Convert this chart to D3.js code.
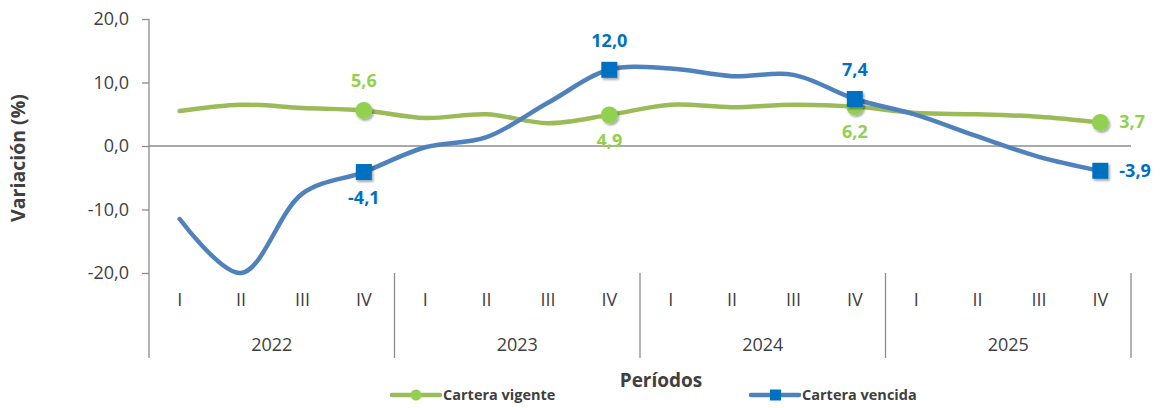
<!DOCTYPE html>
<html>
<head>
<meta charset="utf-8">
<script src="https://cdn.jsdelivr.net/npm/d3@7"></script>
<style>
  html, body { margin: 0; padding: 0; background: #ffffff; }
  svg { display: block; font-family: "Open Sans", "Noto Sans", sans-serif; }
</style>
</head>
<body>
<svg id="chart" width="1161" height="408"></svg>
<script>
const years = ["2022", "2023", "2024", "2025"];
const quarters = ["I", "II", "III", "IV"];
const vigente = [5.5, 6.5, 6.0, 5.6, 4.4, 5.0, 3.6, 4.9, 6.5, 6.1, 6.5, 6.2, 5.2, 5.0, 4.6, 3.7];
const vencida = [-11.5, -20.0, -7.5, -4.1, -0.2, 1.4, 6.8, 12.0, 12.2, 11.0, 11.2, 7.4, 4.9, 1.5, -1.7, -3.9];
const yTicks = [-20, -10, 0, 10, 20];
const seriesNames = ["Cartera vigente", "Cartera vencida"];
const labelled = [3, 7, 11, 15];

(function () {
const svg = d3.select("#chart");
const pLeft = 149, pRight = 1131, pTop = 19, pMinY = 273, axisBottom = 358;

const n = years.length * quarters.length;
const x = d3.scaleLinear().domain([0, n]).range([pLeft, pRight]);
const y = d3.scaleLinear().domain([-20, 20]).range([pMinY, pTop]);
const px = i => x(i + 0.5);

const axisColor = "#8c8c8c";
const textColor = "#404040";
const greenLine = "#9bbb59", greenMark = "#92d050";
const blueLine = "#4f81bd", blueMark = "#0070c0";

const defs = svg.append("defs");
const f = defs.append("filter").attr("id", "shadow").attr("x", "-50%").attr("y", "-50%").attr("width", "200%").attr("height", "200%");
f.append("feDropShadow").attr("dx", 1.5).attr("dy", 2).attr("stdDeviation", 1.2).attr("flood-color", "#000").attr("flood-opacity", 0.35);

// Y axis
const fmt = v => d3.format(".1f")(v).replace(".", ",").replace("\u2212", "-");
const yAxis = d3.axisLeft(y).tickValues(yTicks).tickSize(7).tickPadding(13).tickFormat(fmt);
const gy = svg.append("g").attr("transform", `translate(${pLeft},0)`).call(yAxis);
gy.select(".domain").remove();
gy.selectAll(".tick line").attr("stroke", axisColor).attr("stroke-width", 1.3);
gy.selectAll(".tick text").attr("fill", textColor).attr("font-size", 18)
  .attr("font-family", "'Open Sans', 'Noto Sans', sans-serif");
svg.append("line").attr("x1", pLeft).attr("x2", pLeft).attr("y1", y(20)).attr("y2", axisBottom)
  .attr("stroke", axisColor).attr("stroke-width", 1.3);

// Zero line
svg.append("line").attr("x1", pLeft).attr("x2", pRight).attr("y1", y(0)).attr("y2", y(0))
  .attr("stroke", axisColor).attr("stroke-width", 1.3);

// Year separators and category labels
years.forEach((yr, k) => {
  svg.append("line").attr("x1", x((k + 1) * 4)).attr("x2", x((k + 1) * 4))
    .attr("y1", y(-20)).attr("y2", axisBottom).attr("stroke", axisColor).attr("stroke-width", 1.3);
  svg.append("text").attr("x", x(k * 4 + 2)).attr("y", 346).attr("text-anchor", "middle")
    .attr("dominant-baseline", "middle").attr("font-size", 18).attr("fill", textColor).text(yr);
  quarters.forEach((q, j) => {
    svg.append("text").attr("x", px(k * 4 + j)).attr("y", 301).attr("text-anchor", "middle")
      .attr("dominant-baseline", "middle").attr("font-size", 18).attr("fill", textColor).text(q);
  });
});

// Axis titles
svg.append("text").attr("transform", `translate(20,158) rotate(-90)`).attr("text-anchor", "middle")
  .attr("dominant-baseline", "middle").attr("font-size", 19.5).attr("font-weight", "bold").attr("fill", textColor)
  .text("Variación (%)");
svg.append("text").attr("x", 661).attr("y", 382).attr("text-anchor", "middle").attr("dominant-baseline", "middle")
  .attr("font-size", 19).attr("font-weight", "bold").attr("fill", textColor).text("Períodos");

// Lines
const line = d3.line().x((d, i) => px(i)).y(d => y(d)).curve(d3.curveCatmullRom.alpha(0.5));
svg.append("path").datum(vigente).attr("d", line).attr("fill", "none").attr("stroke", greenLine)
  .attr("stroke-width", 4.5).attr("stroke-linecap", "round");
svg.append("path").datum(vencida).attr("d", line).attr("fill", "none").attr("stroke", blueLine)
  .attr("stroke-width", 4.5).attr("stroke-linecap", "round");

// Markers
labelled.forEach(i => {
  svg.append("circle").attr("cx", px(i)).attr("cy", y(vigente[i])).attr("r", 8.5)
    .attr("fill", greenMark).attr("filter", "url(#shadow)");
});
labelled.forEach(i => {
  svg.append("rect").attr("x", px(i) - 8).attr("y", y(vencida[i]) - 8).attr("width", 16).attr("height", 16)
    .attr("fill", blueMark).attr("filter", "url(#shadow)");
});

// Data labels
const gPos = {3: "above", 7: "below", 11: "below", 15: "right"};
const bPos = {3: "below", 7: "above", 11: "above", 15: "right"};
function addLabel(i, v, pos, color) {
  const t = svg.append("text").attr("font-size", 18).attr("font-weight", "bold").attr("fill", color)
    .attr("dominant-baseline", "middle").text(fmt(v));
  if (pos === "above") t.attr("x", px(i)).attr("y", y(v) - 28).attr("text-anchor", "middle");
  else if (pos === "below") t.attr("x", px(i)).attr("y", y(v) + 27).attr("text-anchor", "middle");
  else t.attr("x", px(i) + 19).attr("y", y(v) + 1).attr("text-anchor", "start");
}
labelled.forEach(i => addLabel(i, vigente[i], gPos[i], greenMark));
labelled.forEach(i => addLabel(i, vencida[i], bPos[i], blueMark));

// Legend
const legend = [
  {name: seriesNames[0], x0: 392, line: greenLine, mark: greenMark, shape: "circle"},
  {name: seriesNames[1], x0: 751, line: blueLine, mark: blueMark, shape: "rect"}
];
legend.forEach(l => {
  const ly = 395;
  svg.append("line").attr("x1", l.x0).attr("x2", l.x0 + 48).attr("y1", ly).attr("y2", ly)
    .attr("stroke", l.line).attr("stroke-width", 4.5).attr("stroke-linecap", "round");
  if (l.shape === "circle") svg.append("circle").attr("cx", l.x0 + 24).attr("cy", ly).attr("r", 5.5).attr("fill", l.mark);
  else svg.append("rect").attr("x", l.x0 + 19).attr("y", ly - 5.5).attr("width", 11).attr("height", 11).attr("fill", l.mark);
  svg.append("text").attr("x", l.x0 + 51).attr("y", ly + 1).attr("dominant-baseline", "middle")
    .attr("font-size", 14.5).attr("font-weight", "bold").attr("fill", textColor).text(l.name);
});
})();
</script>
</body>
</html>
